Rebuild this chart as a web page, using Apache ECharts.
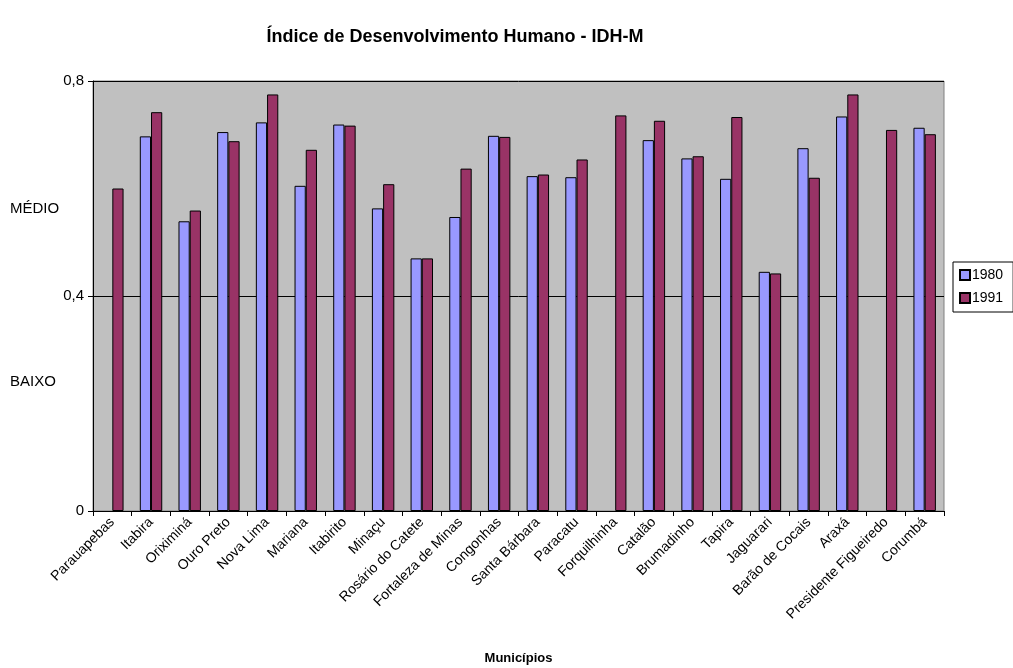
<!DOCTYPE html>
<html>
<head>
<meta charset="utf-8">
<script src="https://cdn.jsdelivr.net/npm/echarts@6/dist/echarts.min.js"></script>
<style>
  html, body { margin: 0; padding: 0; background: #ffffff; }
  #chart { width: 1013px; height: 668px; }
</style>
</head>
<body>
<div id="chart"></div>
<script>
// Municipalities and their IDH-M in 1980 and 1991 (null = no value)
const municipios = [
  'Parauapebas', 'Itabira', 'Oriximiná', 'Ouro Preto', 'Nova Lima', 'Mariana',
  'Itabirito', 'Minaçu', 'Rosário do Catete', 'Fortaleza de Minas', 'Congonhas',
  'Santa Bárbara', 'Paracatu', 'Forquilhinha', 'Catalão', 'Brumadinho', 'Tapira',
  'Jaguarari', 'Barão de Cocais', 'Araxá', 'Presidente Figueiredo', 'Corumbá'
];
const idh1980 = [
  null, 0.697, 0.539, 0.705, 0.723, 0.605,
  0.719, 0.563, 0.470, 0.547, 0.698,
  0.623, 0.621, null, 0.690, 0.656, 0.618,
  0.445, 0.675, 0.734, null, 0.713
];
const idh1991 = [
  0.600, 0.742, 0.559, 0.688, 0.775, 0.672,
  0.717, 0.608, 0.470, 0.637, 0.696,
  0.626, 0.654, 0.736, 0.726, 0.660, 0.733,
  0.442, 0.620, 0.775, 0.709, 0.701
];
const seriesNames = ['1980', '1991'];
const yTicks = { min: 0, max: 0.8, interval: 0.4 };
// Development band captions placed beside the value axis
const faixas = [
  { label: 'MÉDIO', value: 0.566 },
  { label: 'BAIXO', value: 0.245 }
];

const font = 'Arial, "Liberation Sans", sans-serif';
const chart = echarts.init(document.getElementById('chart'));

const barStyle = (color) => ({ color: color, borderColor: '#000000', borderWidth: 1 });

chart.setOption({
  animation: false,
  backgroundColor: '#ffffff',
  textStyle: { fontFamily: font },
  title: {
    text: 'Índice de Desenvolvimento Humano - IDH-M',
    left: 450,
    top: 23,
    textAlign: 'center',
    textStyle: { fontFamily: font, fontSize: 18, fontWeight: 'bold', color: '#000000' }
  },
  legend: {
    orient: 'vertical',
    left: 953,
    top: 262,
    padding: [6, 10, 7, 6],
    itemGap: 9,
    itemWidth: 10,
    itemHeight: 10,
    icon: 'rect',
    borderColor: '#000000',
    borderWidth: 1,
    backgroundColor: '#ffffff',
    textStyle: { fontFamily: font, fontSize: 14, color: '#000000', padding: [0, 0, 0, -3] },
    data: seriesNames
  },
  grid: {
    left: 93,
    right: 69,
    top: 81,
    bottom: 157,
    outerBoundsMode: 'none',
    show: true,
    backgroundColor: '#c0c0c0',
    borderColor: '#808080',
    borderWidth: 1
  },
  xAxis: {
    type: 'category',
    data: municipios,
    name: 'Municípios',
    nameLocation: 'middle',
    nameGap: 141,
    nameTextStyle: { fontFamily: font, fontSize: 13, fontWeight: 'bold', color: '#000000' },
    axisLine: { lineStyle: { color: '#000000', width: 1 } },
    axisTick: { show: true, length: 5, lineStyle: { color: '#000000' } },
    axisLabel: {
      rotate: 45,
      interval: 0,
      margin: 9,
      fontFamily: font,
      fontSize: 14,
      color: '#000000'
    }
  },
  yAxis: {
    type: 'value',
    min: yTicks.min,
    max: yTicks.max,
    interval: yTicks.interval,
    axisLine: { show: true, lineStyle: { color: '#000000', width: 1 } },
    axisTick: { show: true, length: 5, lineStyle: { color: '#000000' } },
    axisLabel: {
      fontFamily: font,
      fontSize: 15,
      color: '#000000',
      margin: 9,
      formatter: (v) => String(v).replace('.', ',')
    },
    splitLine: { show: true, lineStyle: { color: '#000000', width: 1 } }
  },
  series: [
    {
      name: seriesNames[0],
      type: 'bar',
      data: idh1980,
      barGap: '0%',
      barCategoryGap: '42%',
      itemStyle: barStyle('#9999ff')
    },
    {
      name: seriesNames[1],
      type: 'bar',
      data: idh1991,
      itemStyle: barStyle('#993366')
    }
  ]
});

// Band captions positioned through the value axis scale
chart.setOption({
  graphic: faixas.map((f) => ({
    type: 'text',
    left: 10,
    top: chart.convertToPixel({ yAxisIndex: 0 }, f.value) - 5,
    style: { text: f.label, fontFamily: font, fontSize: 15, fill: '#000000' }
  }))
});
</script>
</body>
</html>
